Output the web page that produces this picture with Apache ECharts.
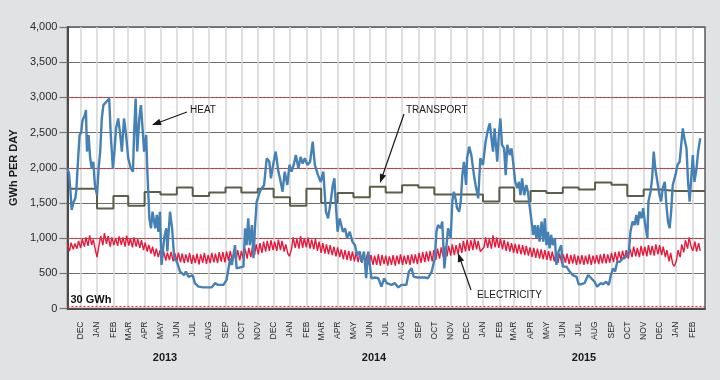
<!DOCTYPE html>
<html>
<head>
<meta charset="utf-8">
<script src="https://cdn.jsdelivr.net/npm/echarts@6/dist/echarts.min.js"></script>
<style>
html,body{margin:0;padding:0;background:#e1e2e4;}
#chart{width:720px;height:380px;}
</style>
</head>
<body>
<div id="chart"></div>
<script>
// ---------------- DATA ----------------
const monthLabels = ['JAN','FEB','MAR','APR','MAY','JUN','JUL','AUG','SEP','OCT','NOV','DEC'];
const yearLabels = ['2013','2014','2015'];
const yTicks = [0, 500, 1000, 1500, 2000, 2500, 3000, 3500, 4000];
const referenceLines = [30, 1000, 2000, 3000];
const startDate = '2012-11-06';
const dayCount = 1207;

// Transport: monthly values, Nov 2012 .. Feb 2016 (GWh/day)
const transportValues = [
  1700, 1700, 1420, 1600, 1460, 1655, 1620, 1720, 1600, 1650, 1720, 1650,
  1700, 1580, 1460, 1700, 1500, 1640, 1580, 1730, 1650, 1750, 1720, 1620,
  1620, 1620, 1520, 1720, 1520, 1670, 1640, 1720, 1690, 1790, 1760, 1600,
  1690, 1670, 1670, 1670
];

// Heat: [day since start, GWh/day]
const heatPoints = [
[0,1990],[3,1920],[6,1640],[8,1400],[11,1500],[15,1565],[17,1700],[20,2100],[23,2465],[26,2500],
[28,2650],[30,2700],[33,2750],[35,2820],[37,2230],[40,2465],[43,2135],[46,1990],[49,2085],[52,1755],
[56,1610],[59,1990],[62,2230],[65,2700],[68,2890],[74,2940],[79,2985],[82,2465],[86,1990],[89,2230],
[92,2560],[96,2700],[100,2465],[103,2230],[107,2700],[111,2465],[115,2135],[120,1990],[124,1945],[126,2465],
[129,2985],[132,2230],[136,2700],[139,2890],[143,2465],[145,2230],[149,2465],[151,1990],[155,1280],[158,1140],
[161,1375],[166,1140],[169,1330],[172,1090],[175,1375],[178,620],[183,1000],[187,1140],[189,810],[194,1375],
[198,1140],[202,715],[207,665],[213,525],[221,475],[224,525],[229,450],[237,475],[241,360],[248,310],
[257,300],[273,300],[279,360],[285,335],[295,335],[301,405],[308,715],[311,620],[317,900],[320,570],
[325,580],[333,595],[336,1140],[339,900],[342,1280],[345,900],[349,1185],[352,715],[355,1185],[358,1520],
[364,1660],[372,1755],[377,2135],[382,2085],[385,1850],[389,2040],[394,2230],[399,1945],[402,1850],[407,1660],
[411,1945],[416,1755],[420,2040],[424,1945],[428,2040],[432,2180],[437,1990],[441,2155],[445,2060],[449,2135],
[454,2040],[459,2085],[464,2370],[468,2040],[474,1895],[479,1800],[484,1945],[489,1375],[493,1280],[498,1520],
[502,1755],[505,1850],[507,1565],[511,1090],[515,1280],[521,1090],[525,1140],[529,1000],[534,1090],[539,950],
[544,900],[548,760],[553,810],[556,665],[561,810],[565,430],[569,810],[572,620],[575,430],[582,440],
[588,430],[594,310],[599,430],[604,360],[613,335],[619,360],[626,300],[632,335],[641,335],[646,525],
[651,570],[655,450],[663,440],[676,440],[682,430],[689,525],[695,715],[698,1090],[701,1185],[706,1140],
[709,1235],[713,570],[716,810],[720,1140],[725,1000],[728,1520],[731,1660],[734,1565],[737,1425],[741,1375],
[744,1520],[747,1895],[750,2085],[754,1755],[756,2135],[760,2300],[764,2180],[769,1895],[772,1755],[777,1565],
[781,2135],[786,2040],[791,2370],[796,2560],[799,2630],[802,2420],[805,2230],[808,2560],[813,2085],[816,2465],
[819,2700],[822,2325],[826,2275],[829,1895],[832,2325],[837,2180],[840,2275],[843,2085],[847,1800],[851,1710],
[854,1800],[857,1610],[860,1850],[864,1610],[868,1755],[871,1660],[874,1470],[878,1235],[881,1045],[884,1185],
[887,1000],[890,1185],[893,950],[897,1235],[900,950],[903,1280],[906,900],[909,1090],[912,855],[915,1045],
[918,900],[922,1000],[925,620],[929,810],[934,900],[937,595],[944,595],[950,525],[956,475],[963,450],
[967,345],[972,345],[978,360],[985,475],[991,430],[997,380],[1002,310],[1009,360],[1013,345],[1019,380],
[1024,335],[1028,475],[1032,570],[1036,525],[1040,665],[1045,665],[1051,715],[1057,735],[1062,810],[1065,1090],
[1069,1235],[1073,1185],[1076,1330],[1079,1185],[1082,1375],[1086,1280],[1089,1425],[1093,1185],[1097,1000],[1099,1520],
[1103,1660],[1106,1850],[1109,2230],[1112,1990],[1116,1800],[1120,1610],[1123,1520],[1126,1710],[1130,1800],[1133,1470],
[1136,1235],[1139,1140],[1142,1375],[1145,1755],[1150,1895],[1154,2040],[1158,2085],[1161,2325],[1164,2560],[1167,2420],
[1171,2275],[1174,1800],[1177,1520],[1180,1850],[1183,2180],[1186,1800],[1190,1990],[1193,2230],[1197,2420]
];

// Electricity: one value every half week (3.5 days) from start, GWh/day
const elecStepDays = 3.5;
const electricityValues = [
910,815,935,840,925,850,960,860,985,880,
1010,890,1040,905,980,830,730,910,1030,900,
1070,920,1030,880,1010,900,1000,890,1025,905,
1010,880,1035,895,995,870,1010,880,985,860,
970,830,935,810,905,780,880,740,850,730,
825,700,815,680,795,690,805,670,790,675,
795,655,780,645,770,655,790,635,760,645,
780,625,770,650,790,635,760,645,790,655,
780,645,800,665,800,655,810,675,820,665,
800,675,830,685,820,695,850,710,860,730,
880,760,910,770,930,790,950,810,960,820,
970,830,950,820,980,830,960,810,910,780,
740,850,1010,860,990,850,1030,860,1000,870,
1010,850,980,840,990,820,950,790,930,780,
910,770,900,760,880,740,870,730,840,700,
830,690,820,680,810,670,800,660,790,650,
780,650,770,630,760,620,750,620,770,610,
760,630,750,610,740,620,760,610,750,630,
770,620,750,630,760,620,770,640,770,630,
790,650,800,660,810,670,820,670,830,690,
850,710,870,730,880,740,890,750,910,760,
900,770,930,790,960,810,980,820,970,830,
990,840,960,810,800,870,1010,860,990,850,
1040,870,1010,860,990,840,970,820,950,810,
930,790,920,780,910,770,900,760,890,750,
870,730,860,720,850,710,840,700,830,690,
820,680,810,670,790,650,780,640,770,650,
780,630,760,640,770,620,750,630,760,620,
750,630,770,620,750,640,760,630,770,640,
780,640,770,650,790,660,800,670,810,690,
820,700,830,710,850,730,880,740,860,730,
890,750,880,740,900,760,890,750,910,770,
900,760,880,730,830,670,790,630,600,680,
830,730,910,800,970,850,1010,870,820,950,
810,930,820
];

// ---------------- BUILD ----------------
const FONT = '"Liberation Sans", Arial, Helvetica, sans-serif';
const categories = [];
const t0 = Date.parse(startDate + 'T00:00:00Z');
for (let i = 0; i < dayCount; i++) {
  categories.push(new Date(t0 + i * 86400000).toISOString().slice(0, 10));
}
const indexOf = {};
categories.forEach((c, i) => { indexOf[c] = i; });
const isMonthStart = (idx, val) => val.slice(8, 10) === '01';

// transport step data
const transportData = [];
{
  let y = 2012, m = 10; // November 2012
  transportValues.forEach((v, k) => {
    const key = y + '-' + String(m + 1).padStart(2, '0') + '-01';
    const idx = k === 0 ? 0 : indexOf[key];
    transportData.push([idx, v]);
    m++; if (m > 11) { m = 0; y++; }
  });
  transportData.push([dayCount - 1, transportValues[transportValues.length - 1]]);
}
const elecData = electricityValues.map((v, i) => [Math.round(i * elecStepDays), v]);

const chart = echarts.init(document.getElementById('chart'), null, {renderer: 'canvas'});

function arrow(x1, y1, x2, y2) {
  const dx = x2 - x1, dy = y2 - y1, L = Math.hypot(dx, dy);
  const ux = dx / L, uy = dy / L, nx = -uy, ny = ux;
  const hl = 9, hw = 3.3;
  const bx = x2 - ux * hl, by = y2 - uy * hl;
  return [
    {type: 'line', z: 100, shape: {x1: x1, y1: y1, x2: bx + ux, y2: by + uy}, style: {stroke: '#1a1a1a', lineWidth: 1.2}},
    {type: 'polygon', z: 100, shape: {points: [[x2, y2], [bx + nx * hw, by + ny * hw], [bx - nx * hw, by - ny * hw]]}, style: {fill: '#1a1a1a'}}
  ];
}
function label(text, x, y, opts) {
  return Object.assign({type: 'text', z: 100, x: x, y: y, style: {
    text: text, fill: '#1a1a1a', font: '10px ' + FONT, align: 'left', verticalAlign: 'middle'
  }}, opts || {});
}
const yearX = [165, 374, 584];

const option = {
  animation: false,
  backgroundColor: '#e1e2e4',
  textStyle: {fontFamily: FONT},
  grid: {left: 67, right: 15, top: 27, bottom: 71.5, show: true, backgroundColor: '#ffffff', borderColor: '#5a5a5a', borderWidth: 1.5},
  xAxis: {
    type: 'category',
    data: categories,
    boundaryGap: false,
    axisLine: {lineStyle: {color: '#4a4a4a', width: 2}},
    axisTick: {show: false},
    axisLabel: {
      interval: isMonthStart,
      rotate: 90,
      margin: 13,
      fontSize: 8.5,
      color: '#2a2a2a',
      fontFamily: FONT,
      formatter: v => monthLabels[parseInt(v.slice(5, 7), 10) - 1]
    },
    splitLine: {show: true, interval: isMonthStart, lineStyle: {color: '#d5d5d5', width: 1.5}}
  },
  yAxis: {
    type: 'value',
    min: yTicks[0], max: yTicks[yTicks.length - 1], interval: yTicks[1] - yTicks[0],
    name: 'GWh PER DAY',
    nameLocation: 'middle',
    nameGap: 45,
    nameTextStyle: {fontWeight: 'bold', fontSize: 11, color: '#1a1a1a', fontFamily: FONT},
    axisLine: {show: true, lineStyle: {color: '#4a4a4a', width: 2}},
    axisTick: {show: true, length: 8, lineStyle: {color: '#777', width: 1.2}},
    axisLabel: {fontSize: 11, color: '#2a2a2a', margin: 10, fontFamily: FONT},
    splitLine: {show: true, lineStyle: {color: '#6e6e6e', width: 1.2}}
  },
  series: [
    {
      name: 'TRANSPORT', type: 'line', step: 'end', data: transportData, showSymbol: false,
      lineStyle: {color: '#5b5e48', width: 2}, z: 3,
      markLine: {
        silent: true, symbol: 'none',
        lineStyle: {color: '#e0323c', type: [2, 2], width: 1.2},
        label: {show: false},
        data: referenceLines.map((v, i) => i === 0 ? {
          yAxis: v,
          label: {show: true, position: 'insideStartTop', formatter: v + ' GWh', fontWeight: 'bold', fontSize: 11, color: '#111', fontFamily: FONT, distance: [3, 1]}
        } : {yAxis: v})
      }
    },
    {
      name: 'ELECTRICITY', type: 'line', data: elecData, showSymbol: false,
      lineStyle: {color: '#e8193c', width: 1.4}, z: 4
    },
    {
      name: 'HEAT', type: 'line', data: heatPoints, showSymbol: false,
      lineStyle: {color: '#4581b5', width: 2.4}, z: 5
    }
  ],
  graphic: [].concat(
    arrow(187, 112, 152, 125),
    [label('HEAT', 190, 110)],
    arrow(404, 114, 380, 183),
    [label('TRANSPORT', 406, 110)],
    arrow(471, 290, 458, 253),
    [label('ELECTRICITY', 477, 295)],
    yearLabels.map((t, i) => label(t, yearX[i], 358, {style: {text: t, fill: '#1a1a1a', font: 'bold 11px ' + FONT, align: 'center', verticalAlign: 'middle'}}))
  )
};
chart.setOption(option);
</script>
</body>
</html>
